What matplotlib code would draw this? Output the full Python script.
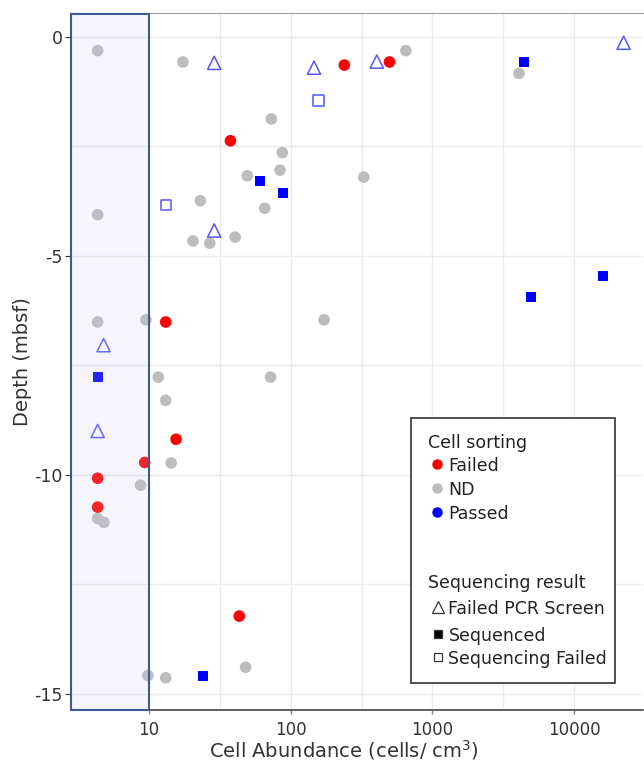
import matplotlib.pyplot as plt
from matplotlib.lines import Line2D
from matplotlib.patches import Rectangle
import numpy as np

# cell sorting outcome -> colour, sequencing result -> marker
sorting_colors = {"Failed": "#ff0000", "ND": "#bdbdbd", "Passed": "#0000ff"}

# no sequencing attempted (plain circles)
circ_abund = [4.33, 17.3, 73, 87.3, 84, 49.3, 23, 65.5, 4.33, 20.4, 26.8, 40.5,
              4.33, 9.5, 172, 650, 4090, 328, 11.6, 72, 13.1, 14.3, 8.7, 4.33,
              4.8, 48, 9.8, 13.1,
              37.5, 13.1, 239, 498, 15.5, 9.3, 4.33, 4.33, 43.3]
circ_depth = [-0.31, -0.57, -1.87, -2.64, -3.04, -3.17, -3.74, -3.91, -4.06, -4.66, -4.71, -4.57,
              -6.51, -6.46, -6.46, -0.31, -0.83, -3.20, -7.77, -7.77, -8.30, -9.73, -10.24, -11.0,
              -11.09, -14.40, -14.59, -14.64,
              -2.37, -6.51, -0.64, -0.57, -9.19, -9.72, -10.08, -10.74, -13.23]
circ_sorting = ["ND"] * 28 + ["Failed"] * 9

# sequenced (filled squares)
seq_abund = [61, 87.7, 4420, 16000, 4980, 4.33, 23.9]
seq_depth = [-3.30, -3.57, -0.56, -5.46, -5.94, -7.77, -14.59]

# sequencing failed (open squares)
seqfail_abund = [157, 13.1]
seqfail_depth = [-1.45, -3.83]

# failed PCR screen (open triangles)
pcr_abund = [28.8, 146, 405, 22400, 28.8, 4.77, 4.33]
pcr_depth = [-0.59, -0.70, -0.56, -0.13, -4.42, -7.04, -9.0]

W, H = 644, 764
fig = plt.figure(figsize=(W / 100, H / 100), dpi=100)
ax = fig.add_axes([0.110, 0.071, 0.889, 0.912])

xmin, xmax = 2.8, 10 ** 4.49
ymin, ymax = -15.37, 0.55
ax.set_xscale("log")
ax.set_xlim(xmin, xmax)
ax.set_ylim(ymin, ymax)

# grid every half decade / every 2.5 m
for g in 10 ** np.arange(1, 4.6, 0.5):
    ax.axvline(g, color="#ebebeb", lw=1, zorder=0)
for g in np.arange(0, -15.1, -2.5):
    ax.axhline(g, color="#ebebeb", lw=1, zorder=0)

ax.scatter(circ_abund, circ_depth, s=70, marker="o",
           c=[sorting_colors[s] for s in circ_sorting], linewidths=0, zorder=3)
ax.scatter(seq_abund, seq_depth, s=55, marker="s", c="#0000ff", linewidths=0, zorder=3)
ax.scatter(seqfail_abund, seqfail_depth, s=55, marker="s", facecolors="none",
           edgecolors="#5555ff", linewidths=1.1, zorder=3)
ax.scatter(pcr_abund, pcr_depth, s=90, marker="^", facecolors="none",
           edgecolors="#5555ff", linewidths=1.1, zorder=3)

# below-detection band
ax.add_patch(Rectangle((xmin, ymin), 10 - xmin, ymax - ymin - 0.02,
                       facecolor="#c8cdec", alpha=0.18, edgecolor="none", zorder=4))
ax.add_patch(Rectangle((xmin, ymin), 10 - xmin, ymax - ymin - 0.02,
                       facecolor="none", edgecolor="#3d5a94", lw=1.5, zorder=5, clip_on=False))

for side in ["left", "right"]:
    ax.spines[side].set_visible(False)
ax.spines["top"].set_color("#a0a0a0")
ax.spines["bottom"].set_color("#444444")
ax.spines["bottom"].set_linewidth(1.2)

ax.set_xticks([10, 100, 1000, 10000])
ax.set_xticklabels(["10", "100", "1000", "10000"])
ax.xaxis.set_minor_locator(plt.NullLocator())
ax.set_yticks([0, -5, -10, -15])
ax.set_yticklabels(["0", "-5", "-10", "-15"])
ax.tick_params(axis="x", length=3, width=1, color="#888888", labelsize=12, pad=5,
               labelcolor="#333333")
ax.tick_params(axis="y", length=4, labelsize=12.5, colors="#333333", pad=2)

ax.set_xlabel("Cell Abundance (cells/ cm$^3$)", fontsize=14, color="#333333")
ax.xaxis.set_label_coords(0.477, -0.041)
ax.set_ylabel("Depth (mbsf)", fontsize=14, color="#333333")
ax.yaxis.set_label_coords(-0.068, 0.5)


# legend, laid out by hand in figure pixels
def fx(px):
    return px / W


def fy(py):
    return 1 - py / H


fig.add_artist(Rectangle((fx(411), fy(683)), fx(615) - fx(411), fy(418) - fy(683),
                         transform=fig.transFigure, facecolor="white",
                         edgecolor="#333333", lw=1.2, zorder=10))

leg_font = dict(fontsize=12.5, color="#222222", va="center", ha="left", zorder=11)
fig.text(fx(428.5), fy(443), "Cell sorting", **leg_font)
sort_rows = [("Failed", 466), ("ND", 490), ("Passed", 514)]
for name, py in sort_rows:
    fig.add_artist(Line2D([fx(436.5)], [fy(py - 2)], transform=fig.transFigure,
                          marker="o", markersize=6.5, color=sorting_colors[name],
                          linestyle="none", zorder=11))
    fig.text(fx(448.5), fy(py), name, **leg_font)

fig.text(fx(428.5), fy(583), "Sequencing result", **leg_font)
seq_rows = [("Failed PCR Screen", 609, "^", "none", 8),
            ("Sequenced", 636, "s", "black", 5.5),
            ("Sequencing Failed", 659, "s", "none", 5.5)]
for name, py, mk, fc, ms in seq_rows:
    fig.add_artist(Line2D([fx(437.5)], [fy(py - 2)], transform=fig.transFigure,
                          marker=mk, markersize=ms, markerfacecolor=fc,
                          markeredgecolor="#333333", markeredgewidth=0.9,
                          linestyle="none", zorder=11))
    fig.text(fx(448.5), fy(py), name, **leg_font)

fig.savefig("out.png", dpi=100)
